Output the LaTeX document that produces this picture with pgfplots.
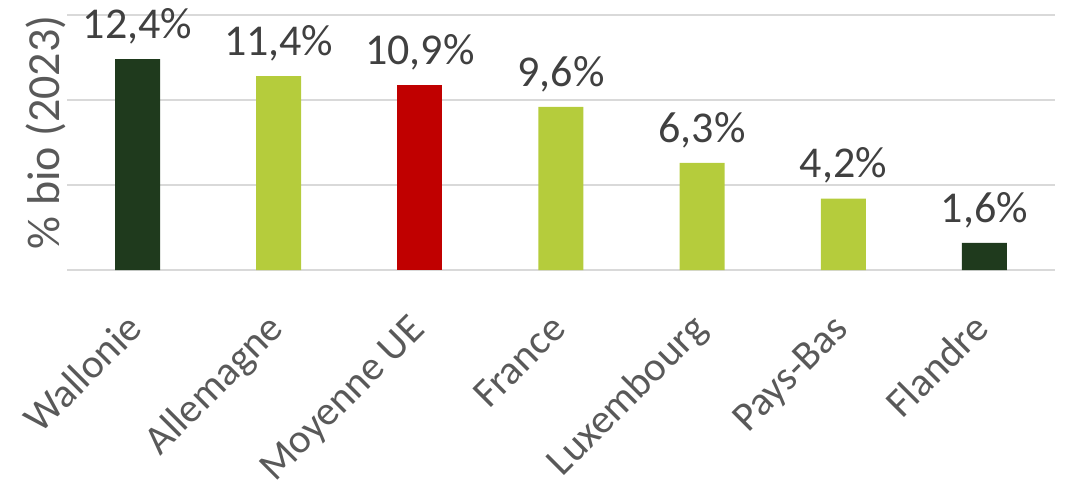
\documentclass[border=0pt]{standalone}
\usepackage{pgfplots}
\pgfplotsset{compat=1.18}
\usepackage{fontspec}
\setmainfont{Carlito}
\definecolor{dkgreen}{HTML}{1F3A1D}
\definecolor{ltgreen}{HTML}{B5CC3C}
\definecolor{exred}{HTML}{C00000}
\definecolor{gridgray}{HTML}{D9D9D9}
\definecolor{lbl}{HTML}{404040}
\definecolor{tck}{HTML}{595959}
\begin{document}
\begin{tikzpicture}
\useasboundingbox (0,0) rectangle (533pt,241.5pt);
\begin{axis}[
  at={(33.5pt,106.5pt)}, anchor=south west,
  scale only axis, width=494pt, height=127.5pt,
  xmin=-0.5, xmax=6.5, ymin=0, ymax=15,
  ytick={0,5,10,15}, yticklabels={},
  ymajorgrids, grid style={gridgray, line width=0.75pt},
  axis line style={draw=none},
  major tick length=0pt,
  xtick={0,1,2,3,4,5,6},
  xticklabels={Wallonie,Allemagne,Moyenne UE,France,Luxembourg,Pays-Bas,Flandre},
  xticklabel style={rotate=45, anchor=base east, inner sep=0pt, font=\fontsize{20.5pt}{24pt}\selectfont, text=tck, xshift=-19.1pt, yshift=-24pt},
  ylabel={\% bio (2023)},
  ylabel style={at={(axis description cs:-0.021,0.54)}, anchor=center, font=\fontsize{23pt}{27pt}\selectfont, text=tck},
  ybar, bar width=22.5pt, bar shift=0pt,
  point meta=explicit symbolic,
  nodes near coords,
  nodes near coords style={anchor=south, font=\fontsize{22pt}{26pt}\selectfont, text=lbl, yshift=4pt},
]
\addplot[fill=dkgreen, draw=none] coordinates {(0,12.4)[12,4\%] (6,1.6)[1,6\%]};
\addplot[fill=ltgreen, draw=none] coordinates {(1,11.4)[11,4\%] (3,9.6)[9,6\%] (4,6.3)[6,3\%] (5,4.2)[4,2\%]};
\addplot[fill=exred, draw=none] coordinates {(2,10.9)[10,9\%]};
\end{axis}
\end{tikzpicture}
\end{document}
